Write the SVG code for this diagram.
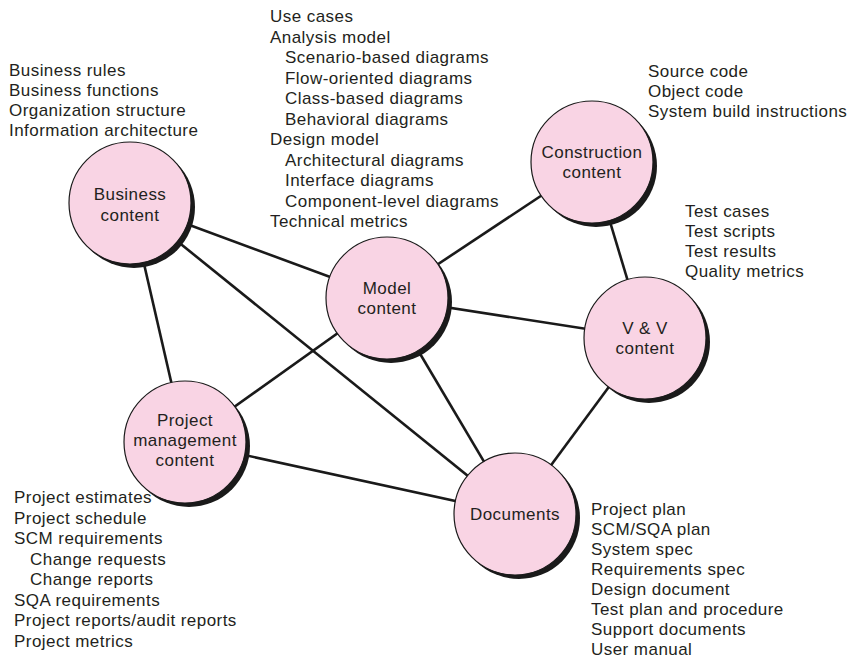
<svg xmlns="http://www.w3.org/2000/svg" width="855" height="659" viewBox="0 0 855 659">
<style>
  .edge { stroke:#1a1a1a; stroke-width:2.6; fill:none; }
  .shadow { fill:#1a1a1a; }
  .node { fill:#f9d4e4; stroke:#1a1a1a; stroke-width:1.2; }
  text { font-family:"Liberation Sans", Arial, sans-serif; font-size:17px; letter-spacing:0.45px; fill:#231f20; }
  .label { text-anchor:middle; }
</style>
<rect width="855" height="659" fill="#ffffff"/>
<g id="connectors">
  <line class="edge" x1="130" y1="203" x2="387" y2="298"/>
  <line class="edge" x1="130" y1="203" x2="515" y2="514"/>
  <line class="edge" x1="130" y1="203" x2="185" y2="442"/>
  <line class="edge" x1="387" y1="298" x2="592" y2="162"/>
  <line class="edge" x1="387" y1="298" x2="645" y2="338"/>
  <line class="edge" x1="387" y1="298" x2="185" y2="442"/>
  <line class="edge" x1="387" y1="298" x2="515" y2="514"/>
  <line class="edge" x1="592" y1="162" x2="645" y2="338"/>
  <line class="edge" x1="645" y1="338" x2="515" y2="514"/>
  <line class="edge" x1="185" y1="442" x2="515" y2="514"/>
</g>
<g id="business">
  <circle class="shadow" cx="134" cy="207" r="61"/>
  <circle class="node" cx="130" cy="203" r="61"/>
  <text class="label" x="130" y="200">Business</text>
  <text class="label" x="130" y="221">content</text>
  <g>
    <text x="9" y="76">Business rules</text>
    <text x="9" y="96">Business functions</text>
    <text x="9" y="116">Organization structure</text>
    <text x="9" y="136">Information architecture</text>
  </g>
</g>
<g id="model">
  <circle class="shadow" cx="391" cy="302" r="61"/>
  <circle class="node" cx="387" cy="298" r="61"/>
  <text class="label" x="387" y="294">Model</text>
  <text class="label" x="387" y="314">content</text>
  <g>
    <text x="270" y="22">Use cases</text>
    <text x="270" y="42.5">Analysis model</text>
    <text x="285" y="63">Scenario-based diagrams</text>
    <text x="285" y="83.5">Flow-oriented diagrams</text>
    <text x="285" y="104">Class-based diagrams</text>
    <text x="285" y="124.5">Behavioral diagrams</text>
    <text x="270" y="145">Design model</text>
    <text x="285" y="165.5">Architectural diagrams</text>
    <text x="285" y="186">Interface diagrams</text>
    <text x="285" y="206.5">Component-level diagrams</text>
    <text x="270" y="227">Technical metrics</text>
  </g>
</g>
<g id="construction">
  <circle class="shadow" cx="596" cy="166" r="61"/>
  <circle class="node" cx="592" cy="162" r="61"/>
  <text class="label" x="592" y="158">Construction</text>
  <text class="label" x="592" y="178">content</text>
  <g>
    <text x="648" y="77">Source code</text>
    <text x="648" y="97">Object code</text>
    <text x="648" y="117">System build instructions</text>
  </g>
</g>
<g id="vv">
  <circle class="shadow" cx="649" cy="342" r="61"/>
  <circle class="node" cx="645" cy="338" r="61"/>
  <text class="label" x="645" y="334">V &amp; V</text>
  <text class="label" x="645" y="354">content</text>
  <g>
    <text x="685" y="217">Test cases</text>
    <text x="685" y="237">Test scripts</text>
    <text x="685" y="257">Test results</text>
    <text x="685" y="277">Quality metrics</text>
  </g>
</g>
<g id="project">
  <circle class="shadow" cx="189" cy="446" r="61"/>
  <circle class="node" cx="185" cy="442" r="61"/>
  <text class="label" x="185" y="426">Project</text>
  <text class="label" x="185" y="446">management</text>
  <text class="label" x="185" y="466">content</text>
  <g>
    <text x="14" y="503">Project estimates</text>
    <text x="14" y="523.5">Project schedule</text>
    <text x="14" y="544">SCM requirements</text>
    <text x="30" y="564.5">Change requests</text>
    <text x="30" y="585">Change reports</text>
    <text x="14" y="605.5">SQA requirements</text>
    <text x="14" y="626">Project reports/audit reports</text>
    <text x="14" y="646.5">Project metrics</text>
  </g>
</g>
<g id="documents">
  <circle class="shadow" cx="519" cy="518" r="61"/>
  <circle class="node" cx="515" cy="514" r="61"/>
  <text class="label" x="515" y="520">Documents</text>
  <g>
    <text x="591" y="515">Project plan</text>
    <text x="591" y="535">SCM/SQA plan</text>
    <text x="591" y="555">System spec</text>
    <text x="591" y="575">Requirements spec</text>
    <text x="591" y="595">Design document</text>
    <text x="591" y="615">Test plan and procedure</text>
    <text x="591" y="635">Support documents</text>
    <text x="591" y="655">User manual</text>
  </g>
</g>
</svg>
